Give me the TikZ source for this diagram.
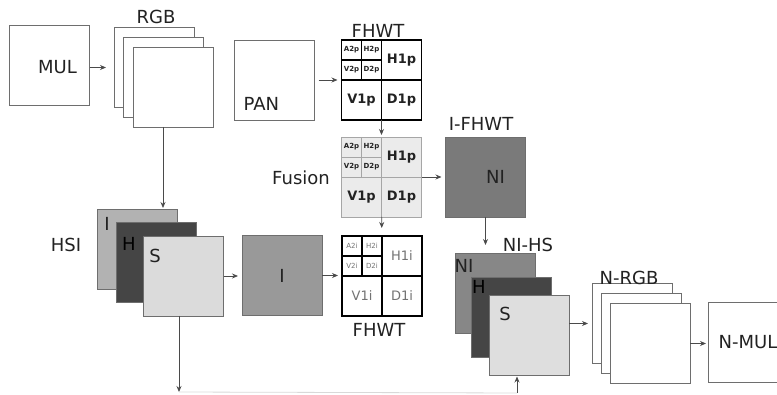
\documentclass[tikz,border=0pt]{standalone}
\usepackage{fontspec}
\setmainfont{DejaVu Sans}
\usetikzlibrary{positioning,arrows.meta,calc}
\definecolor{edge}{HTML}{6E6E6E}
\definecolor{wire}{HTML}{4A4A4A}
\definecolor{ink}{HTML}{222222}
\tikzset{
  plate/.style={draw=edge,fill=white,minimum width=80pt,minimum height=80pt,inner sep=0pt,outer sep=0pt,line width=0.9pt},
  chan/.style={plate,fill=#1},
  wt/.style={draw=black,fill=white,minimum width=80pt,minimum height=80pt,inner sep=0pt,outer sep=0pt,line width=1.6pt},
  wtline/.style={draw=black,line width=1.6pt},
  lbl/.style={font=\fontsize{18}{18}\selectfont,text=ink,inner sep=0pt},
  band/.style={font=\fontsize{13}{13}\selectfont,text=ink,inner sep=0pt},
  subband/.style={font=\fontsize{7}{7}\selectfont,text=ink,inner sep=0pt},
  flow/.style={draw=wire,line width=0.8pt,-{Stealth[length=6pt,width=5pt]},shorten >=4pt},
}
% sub-band grid of a two level wavelet box: #1 box, #2 suffix, #3 line style, #4 text font
\newcommand{\wtgrid}[4]{%
  \draw[#3] (#1.north) -- (#1.south) (#1.west) -- (#1.east)
    ($(#1.north west)!0.5!(#1.north)$) -- ($(#1.west)!0.5!(#1.center)$)
    ($(#1.north west)!0.5!(#1.west)$) -- ($(#1.north)!0.5!(#1.center)$);
  \node[band] (#1-h1) at ($(#1.center)+(20,-20)$) {#4H1#2};
  \node[band] (#1-v1) at ($(#1.center)+(-20,20)$) {#4V1#2};
  \node[band] (#1-d1) at ($(#1.center)+(20,20)$) {#4D1#2};
  \node[subband] (#1-a2) at ($(#1.center)+(-30,-30)$) {#4A2#2};
  \node[subband] (#1-h2) at ($(#1.center)+(-10,-30)$) {#4H2#2};
  \node[subband] (#1-v2) at ($(#1.center)+(-30,-10)$) {#4V2#2};
  \node[subband] (#1-d2) at ($(#1.center)+(-10,-10)$) {#4D2#2};
}
\begin{document}
\begin{tikzpicture}[x=1pt,y=-1pt]
  \clip (0,0) rectangle (777,395);

  % multispectral input and its RGB planes
  \node[plate,label={[lbl,xshift=8pt,yshift=-2pt]center:MUL}] (mul) at (49.5,65) {};
  \node[plate] (rgb1) at (154,67.5) {};
  \node[plate] (rgb2) at (163,77.5) {};
  \node[plate] (rgb3) at (173,87) {};
  \node[lbl] (rgbtxt) at (156,17) {RGB};

  % panchromatic branch
  \node[plate,label={[lbl,anchor=south west,xshift=9pt,yshift=9pt]south west:PAN}] (pan) at (274.5,80) {};
  \node[wt] (fa) at (381.5,80) {};
  \wtgrid{fa}{p}{wtline}{\bfseries}
  \node[lbl] (fatxt) at (378,31) {FHWT};

  \node[wt,draw=black!35,fill=black!8,line width=0.8pt] (fu) at (381.5,177) {};
  \wtgrid{fu}{p}{draw=black!35,line width=0.8pt}{\bfseries}
  \node[lbl] (futxt) at (301,178) {Fusion};

  \node[chan=black!52,label={[lbl,xshift=10pt]center:NI}] (ni) at (485.5,177) {};
  \node[lbl] (nitxt) at (481,124) {I-FHWT};

  % HSI planes
  \node[chan=black!30] (hi) at (137,249) {};
  \node[chan=black!73] (hh) at (156.5,262.5) {};
  \node[chan=black!14] (hs) at (183.5,276) {};
  \node[lbl] (hitxt) at (107,224) {I};
  \node[lbl,text=black] (hhtxt) at (129,244) {H};
  \node[lbl] (hstxt) at (155,256) {S};
  \node[lbl] (hsitxt) at (66,245) {HSI};

  \node[chan=black!40,label={[lbl]center:I}] (ib) at (282,275.5) {};
  \node[wt] (fb) at (382,276) {};
  \wtgrid{fb}{i}{wtline}{\color{black!55}}
  \node[lbl] (fbtxt) at (379,330) {FHWT};

  % new planes and output
  \node[chan=black!47] (ni1) at (495,293) {};
  \node[chan=black!73] (nh) at (511.5,317) {};
  \node[chan=black!13] (ns) at (529,335.5) {};
  \node[lbl] (ni1txt) at (464,266) {NI};
  \node[lbl,text=black] (nhtxt) at (479,287) {H};
  \node[lbl] (nstxt) at (505,314) {S};
  \node[lbl] (nihstxt) at (528,245) {NI-HS};

  \node[plate] (nrgb1) at (632,323.5) {};
  \node[plate] (nrgb2) at (641,333) {};
  \node[plate] (nrgb3) at (650,343.5) {};
  \node[lbl] (nrgbtxt) at (629,278) {N-RGB};
  \node[plate,label={[lbl]center:N-MUL}] (nmul) at (748,342) {};

  % connectors
  \draw[flow,shorten >=8pt] (mul.east |- rgb1) -- (rgb1.west);
  \draw[flow,shorten >=1pt] (rgb2 |- rgb3.south) -- (rgb2 |- hi.north);
  \draw[flow,shorten <=4pt] (pan) -- (fa);
  \draw[flow,shorten >=2pt] (fa) -- (fu);
  \draw[flow,shorten >=8pt] (fu) -- (fb);
  \draw[flow] (fu) -- (ni);
  \draw[flow] (hs) -- (hs -| ib.west);
  \draw[flow] (ib) -- (ib -| fb.west);
  \draw[flow,shorten >=8pt] (ni) -- (ni |- ni1.north);
  \draw[flow] (ns.east |- nrgb1) -- (nrgb1.west);
  \draw[flow,shorten >=2pt] (nrgb3.east) -- (nrgb3.east -| nmul.west);
  \coordinate (bl) at (179,392);
  \coordinate (br) at (517,393);
  \draw[flow,shorten >=0pt] (bl |- hs.south) -- (bl);
  \draw[black!15,line width=0.8pt] (bl) -- (br);
  \draw[flow,shorten >=1pt] (br) -- (br |- ns.south);
\end{tikzpicture}
\end{document}
